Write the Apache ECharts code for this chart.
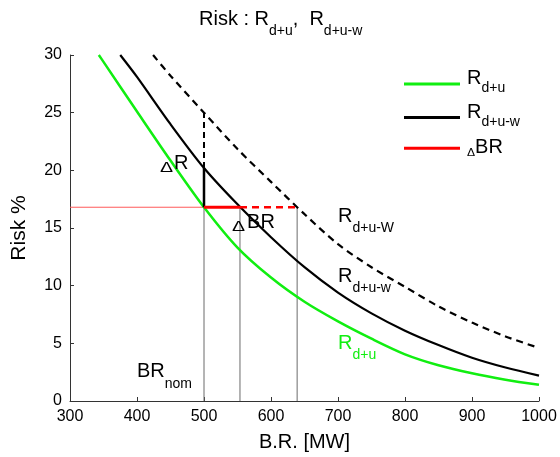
<!DOCTYPE html>
<html>
<head>
<meta charset="utf-8">
<script src="https://cdn.jsdelivr.net/npm/echarts@6/dist/echarts.min.js"></script>
<style>
html,body{margin:0;padding:0;background:#fff;}
#chart{width:560px;height:457px;}
</style>
</head>
<body>
<div id="chart"></div>
<script>
// ---- data ----
const xGreen = [343, 350, 400, 450, 500, 550, 600, 650, 700, 750, 800, 850, 900, 950, 1000];
const yGreen = [30, 29.4, 25.1, 20.85, 16.8, 13.3, 10.7, 8.6, 6.9, 5.4, 4.05, 3.1, 2.4, 1.85, 1.4];
const xBlack = [375, 400, 450, 500, 550, 600, 650, 700, 750, 800, 850, 900, 950, 1000];
const yBlack = [30, 28.1, 24.0, 20.2, 17.05, 14.2, 11.6, 9.4, 7.6, 6.1, 4.85, 3.75, 2.9, 2.2];
const xDash = [424, 450, 500, 550, 600, 650, 700, 750, 800, 850, 900, 950, 1000];
const yDash = [30, 28.2, 25.0, 21.85, 19.0, 16.2, 13.6, 11.6, 9.9, 8.2, 6.8, 5.6, 4.6];
const brNom = 500, riskNom = 16.8;
const brW = 553.7, brWW = 639;
const riskW = 20.2, riskWW = 25.0;
const xTicks = [300, 400, 500, 600, 700, 800, 900, 1000];
const yTicks = [0, 5, 10, 15, 20, 25, 30];

const FONT = '"Liberation Sans", Arial, Helvetica, sans-serif';
const GREEN = '#11ee11';
const RED = '#ff0000';
const zip = (xs, ys) => xs.map((x, i) => [x, ys[i]]);

const chart = echarts.init(document.getElementById('chart'), null, {renderer: 'canvas'});

const lineSeries = (name, data, color, width, type, z) => ({
  name: name, type: 'line', data: data, showSymbol: false, symbol: 'none',
  lineStyle: {color: color, width: width, type: type},
  itemStyle: {color: color}, z: z || 2, silent: true, animation: false
});

const series = [];
// thin guide lines
[brNom, brW, brWW].forEach((b, i) => {
  series.push(lineSeries('v' + i, [[b, 0], [b, riskNom]], '#6b6b6b', 1, 'solid', 1));
});
series.push(lineSeries('hthin', [[300, riskNom], [brNom, riskNom]], '#ff5a5a', 1, 'solid', 1));
// curves
series.push(Object.assign(lineSeries('Rdu', zip(xGreen, yGreen), GREEN, 2.5, 'solid', 3), {smooth: 0.3}));
series.push(Object.assign(lineSeries('Rduw', zip(xBlack, yBlack), '#000', 2.2, 'solid', 3), {smooth: 0.3}));
series.push(Object.assign(lineSeries('RduW', zip(xDash, yDash), '#000', 2.2, [7, 5], 3), {smooth: 0.3}));
// delta R / delta BR segments
series.push(lineSeries('dR1', [[brNom, riskNom], [brNom, riskW]], '#000', 2.5, 'solid', 4));
series.push(lineSeries('dR2', [[brNom, riskW], [brNom, riskWW]], '#000', 2, [6, 4], 4));
series.push(lineSeries('dBR', [[brNom, riskNom], [brW, riskNom]], RED, 3, 'solid', 5));
series.push(lineSeries('dBR2', [[brW, riskNom], [brWW, riskNom]], RED, 2.5, [7, 5], 5));

chart.setOption({
  animation: false,
  backgroundColor: '#fff',
  grid: {left: 70, right: 21, top: 55, bottom: 56, containLabel: false},
  xAxis: {
    type: 'value', min: xTicks[0], max: xTicks[xTicks.length - 1], interval: 100,
    name: 'B.R. [MW]', nameLocation: 'middle', nameGap: 31,
    nameTextStyle: {fontSize: 20, color: '#000', fontFamily: FONT},
    axisLine: {show: true, lineStyle: {color: '#333', width: 1}},
    axisTick: {show: true, inside: true, length: 4, lineStyle: {color: '#333'}},
    axisLabel: {fontSize: 16, color: '#000', margin: 8, fontFamily: FONT, formatter: v => String(v)},
    splitLine: {show: false}
  },
  yAxis: {
    type: 'value', min: yTicks[0], max: yTicks[yTicks.length - 1], interval: 5,
    name: 'Risk %', nameLocation: 'middle', nameGap: 40,
    nameTextStyle: {fontSize: 21, color: '#000', fontFamily: FONT},
    axisLine: {show: true, lineStyle: {color: '#333', width: 1}},
    axisTick: {show: true, inside: true, length: 4, lineStyle: {color: '#333'}},
    axisLabel: {fontSize: 16, color: '#000', margin: 8, fontFamily: FONT},
    splitLine: {show: false}
  },
  series: series
});

// ---- text with subscripts (title, legend, annotations) ----
const mctx = document.createElement('canvas').getContext('2d');
function tw(t, size) { mctx.font = size + 'px ' + FONT; return mctx.measureText(t).width; }
function richText(x, base, segs, color) {
  const out = []; let cx = x;
  segs.forEach(s => {
    const sx = s.sx || 1;
    cx += (s.pre || 0);
    out.push({
      type: 'text', x: cx, y: base + (s.dy || 0) - 0.3465 * s.size, scaleX: sx, scaleY: 1,
      silent: true, z: 100,
      style: {text: s.t, fontSize: s.size, fontFamily: FONT, fill: color,
              align: 'left', verticalAlign: 'middle', textAlign: 'left', textVerticalAlign: 'middle'}
    });
    cx += tw(s.t, s.size) * sx;
  });
  return out;
}
const M = 20, S = 14;
const sub = (t, dy) => ({t: t, size: S, dy: dy});
const main = (t, pre) => ({t: t, size: M, pre: pre || 0});
const delta = (size, sx, dy) => ({t: 'Δ', size: size, sx: sx, dy: dy});

let g = [];
// title
g = g.concat(richText(199, 26, [main('Risk : R'), sub('d+u', 9.5), main(',  R'), sub('d+u-w', 9.5)], '#000'));
// legend
const legendRows = [
  {y: 84, color: GREEN, base: 85, segs: [main('R'), sub('d+u', 7.5)]},
  {y: 117.5, color: '#000', base: 119, segs: [main('R'), sub('d+u-w', 8.3)]},
  {y: 148.3, color: RED, base: 154.5, segs: [delta(11, 1.1, 2.3), main('BR')]}
];
legendRows.forEach(r => {
  g.push({type: 'line', silent: true, z: 100, shape: {x1: 404, y1: r.y, x2: 460, y2: r.y},
          style: {stroke: r.color, lineWidth: 3}});
  g = g.concat(richText(467, r.base, r.segs, '#000'));
});
// annotations anchored in data coordinates (left edge, text baseline)
const notes = [
  {at: [434.3, 19.95], segs: [delta(14, 1.4, 2), main('R', 1)], color: '#000'},
  {at: [541.8, 14.92], segs: [delta(14, 1.4, 3), main('BR', 2)], color: '#000'},
  {at: [700, 15.44], segs: [main('R'), sub('d+u-W', 10)], color: '#000'},
  {at: [700, 10.23], segs: [main('R'), sub('d+u-w', 10)], color: '#000'},
  {at: [700, 4.42], segs: [main('R'), sub('d+u', 10)], color: GREEN},
  {at: [400, 2.0], segs: [main('BR'), sub('nom', 11)], color: '#000'}
];
notes.forEach(n => {
  const p = chart.convertToPixel({gridIndex: 0}, n.at);
  g = g.concat(richText(p[0], p[1], n.segs, n.color));
});
chart.setOption({graphic: {elements: g}});
</script>
</body>
</html>
